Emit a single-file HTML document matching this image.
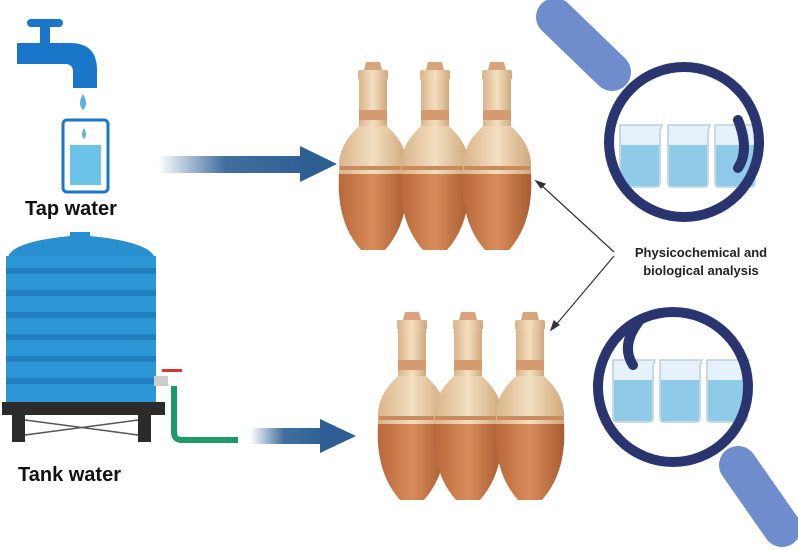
<!DOCTYPE html>
<html><head><meta charset="utf-8"><style>
html,body{margin:0;padding:0;background:#fff;}
svg{display:block;}
</style></head><body>
<svg width="798" height="550" viewBox="0 0 798 550" xmlns="http://www.w3.org/2000/svg">
<defs>
<linearGradient id="arr" x1="0" x2="1" y1="0" y2="0">
<stop offset="0" stop-color="#2e5f94" stop-opacity="0"/>
<stop offset="0.45" stop-color="#2e5f94" stop-opacity="0.9"/>
<stop offset="1" stop-color="#2e5f94"/>
</linearGradient>
<linearGradient id="clay" x1="0" x2="1">
<stop offset="0" stop-color="#b8683a"/><stop offset="0.5" stop-color="#d98c5a"/><stop offset="1" stop-color="#a75c32"/>
</linearGradient>
<linearGradient id="cream" x1="0" x2="1">
<stop offset="0" stop-color="#d9b48a"/><stop offset="0.5" stop-color="#f3dfc0"/><stop offset="1" stop-color="#d0a87c"/>
</linearGradient>
<g id="jar">
<path d="M-7,0 L7,0 L9,8 L-9,8 Z" fill="#d9a47c"/>
<rect x="-15" y="8" width="30" height="10" rx="2" fill="url(#cream)"/>
<rect x="-14" y="18" width="28" height="48" fill="url(#cream)"/>
<rect x="-14" y="48" width="28" height="10" fill="#d49a70"/>
<path d="M-14,64 L14,64 C22,72 32,82 34,100 L34,114 L-34,114 L-34,100 C-32,82 -22,72 -14,64 Z" fill="url(#cream)"/>
<path d="M-34,112 L34,112 C36,145 28,170 12,188 L-12,188 C-28,170 -36,145 -34,112 Z" fill="url(#clay)"/>
<rect x="-33" y="104" width="66" height="4" fill="#c98a5e"/>
</g>
<g id="beaker">
<path d="M-20,-30 L22,-30 L20,-24 L20,28 Q20,32 16,32 L-16,32 Q-20,32 -20,28 Z" fill="#e6f2fa" stroke="#b9cfdd" stroke-width="1.5"/>
<path d="M-19,-10 L19,-10 L19,28 Q19,31 16,31 L-16,31 Q-19,31 -19,28 Z" fill="#8fcbe8"/>
</g>
</defs>

<!-- faucet -->
<g fill="#1976c8">
<rect x="27" y="19" width="36" height="8" rx="4"/>
<rect x="40" y="24" width="10" height="20"/>
<path d="M17,43 L70,43 Q97,43 97,70 L97,88 L73,88 L73,72 Q73,64 65,64 L17,64 Z"/>
</g>
<path d="M83,94 Q77,104 83,110 Q89,104 83,94 Z" fill="#5bb3e0"/>
<rect x="63" y="120" width="45" height="72" rx="4" fill="none" stroke="#1976c8" stroke-width="3"/>
<rect x="70" y="145" width="31" height="40" fill="#6cc3e8"/>
<path d="M84,128 Q80,135 84,139 Q88,135 84,128 Z" fill="#5bb3e0"/>
<text x="25" y="215" font-family="Liberation Sans, sans-serif" font-weight="bold" font-size="20" fill="#111">Tap water</text>

<!-- tank -->
<path d="M8,258 Q10,242 70,236 L70,232 L90,232 L90,236 Q150,242 155,258 Z" fill="#2a8fd0"/>
<rect x="6" y="256" width="150" height="147" fill="#2d96d6"/>
<g fill="#1f7fbf">
<rect x="6" y="268" width="150" height="6"/><rect x="6" y="290" width="150" height="6"/>
<rect x="6" y="312" width="150" height="6"/><rect x="6" y="334" width="150" height="6"/>
<rect x="6" y="356" width="150" height="6"/><rect x="6" y="378" width="150" height="6"/>
</g>
<rect x="2" y="402" width="163" height="13" fill="#2b2b2b"/>
<rect x="12" y="412" width="13" height="30" fill="#2b2b2b"/>
<rect x="138" y="412" width="13" height="30" fill="#2b2b2b"/>
<path d="M25,420 L138,435 M25,435 L138,420" stroke="#555" stroke-width="1.5"/>
<rect x="154" y="376" width="14" height="10" fill="#ccc"/>
<rect x="162" y="369" width="20" height="3" fill="#d33"/>
<path d="M174,386 L174,432 Q174,440 182,440 L238,440" fill="none" stroke="#1e9a6a" stroke-width="6"/>
<text x="18" y="481" font-family="Liberation Sans, sans-serif" font-weight="bold" font-size="20" fill="#111">Tank water</text>

<!-- arrows -->
<rect x="158" y="156" width="148" height="17" fill="url(#arr)"/>
<path d="M300,146 L337,164 L300,182 Z" fill="#2e5f94"/>
<rect x="250" y="428" width="75" height="16" fill="url(#arr)"/>
<path d="M320,419 L356,436 L320,453 Z" fill="#2e5f94"/>

<!-- jars -->
<use href="#jar" x="373" y="62"/>
<use href="#jar" x="435" y="62"/>
<use href="#jar" x="497" y="62"/>
<use href="#jar" x="412" y="312"/>
<use href="#jar" x="468" y="312"/>
<use href="#jar" x="530" y="312"/>

<!-- thin arrows -->
<g stroke="#333" stroke-width="1.2" fill="#333">
<path d="M614,252 L540,184"/><path d="M536,181 L545,184 L541,188 Z"/>
<path d="M614,256 L555,326"/><path d="M551,330 L554,321 L559,325 Z"/>
</g>
<text x="701" y="257" text-anchor="middle" font-family="Liberation Sans, sans-serif" font-weight="bold" font-size="13" fill="#222">Physicochemical and</text>
<text x="701" y="275" text-anchor="middle" font-family="Liberation Sans, sans-serif" font-weight="bold" font-size="13" fill="#222">biological analysis</text>

<!-- magnifier top -->
<line x1="555" y1="17" x2="612" y2="72" stroke="#6f8ccc" stroke-width="38" stroke-linecap="round"/>
<circle cx="684" cy="142" r="72" fill="#fff"/>
<use href="#beaker" x="640" y="155"/>
<use href="#beaker" x="688" y="155"/>
<use href="#beaker" x="735" y="155"/>
<circle cx="684" cy="142" r="75" fill="none" stroke="#2a3570" stroke-width="10"/>
<path d="M738,120 Q750,150 738,168" fill="none" stroke="#2a3570" stroke-width="10" stroke-linecap="round"/>
<!-- magnifier bottom -->
<line x1="738" y1="465" x2="782" y2="528" stroke="#6f8ccc" stroke-width="38" stroke-linecap="round"/>
<circle cx="673" cy="387" r="72" fill="#fff"/>
<use href="#beaker" x="633" y="390"/>
<use href="#beaker" x="680" y="390"/>
<use href="#beaker" x="727" y="390"/>
<circle cx="673" cy="387" r="75" fill="none" stroke="#2a3570" stroke-width="10"/>
<path d="M640,320 Q620,345 633,365" fill="none" stroke="#2a3570" stroke-width="10" stroke-linecap="round"/>
</svg>
</body></html>
